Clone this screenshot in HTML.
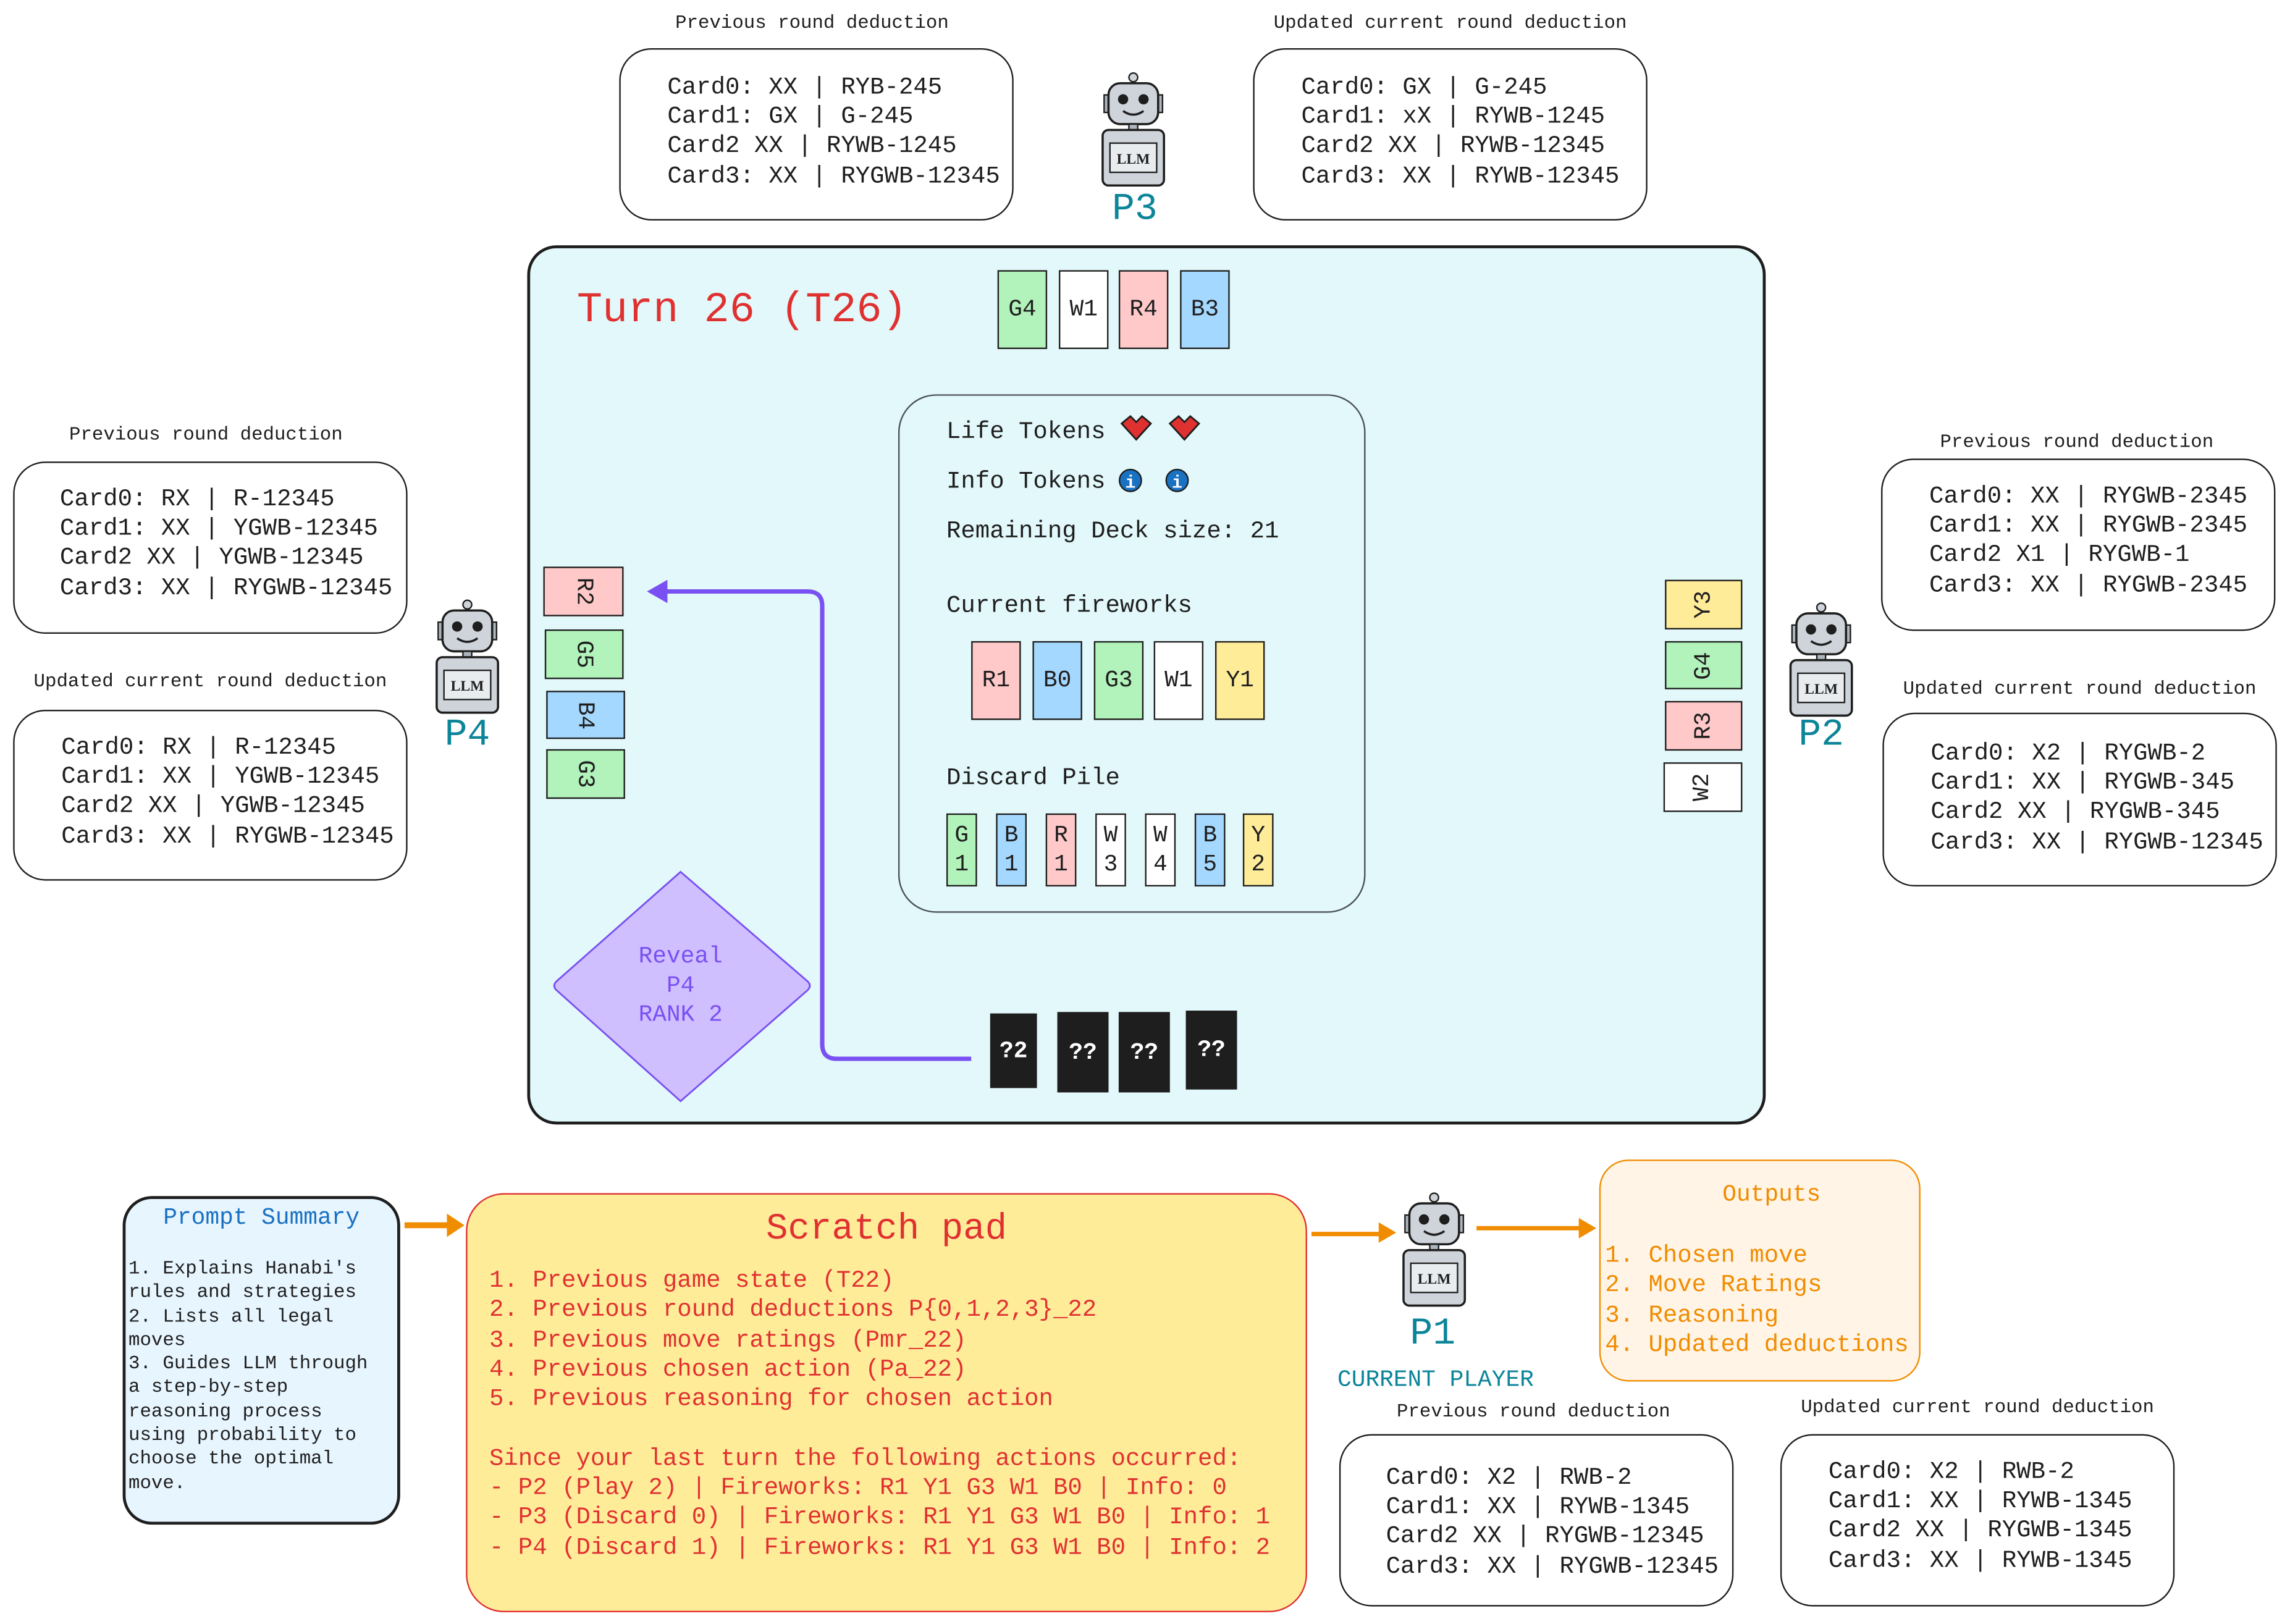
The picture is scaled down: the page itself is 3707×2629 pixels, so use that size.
<!DOCTYPE html>
<html><head><meta charset="utf-8"><style>
html,body{margin:0;padding:0;background:#fff;overflow:hidden}
#w{position:absolute;left:0;top:0;width:1568px;height:1112px;transform:scale(2.36416);transform-origin:0 0;font-family:"Liberation Mono",monospace;color:#1e1e1e}
.a{position:absolute}
.box{position:absolute;border:1.3px solid #1e1e1e;border-radius:22px;background:#fff;box-sizing:border-box}
.lbl{position:absolute;font-size:13px;line-height:16px;text-align:center;width:300px;white-space:pre}
.txt{position:absolute;font-size:16.5px;line-height:20.2px;white-space:pre}
.card{position:absolute;border:1.6px solid #1e1e1e;box-sizing:border-box;display:flex;align-items:center;justify-content:center;font-size:16px}
.g{background:#b2f2bb}.w{background:#fff}.r{background:#ffc9c9}.b{background:#a5d8ff}.y{background:#ffec99}.k{background:#1e1e1e;color:#fff;font-weight:bold}
.pl{position:absolute;color:#0c8599;font-size:26px;text-align:center;width:80px}
.rot90 span{transform:rotate(90deg);display:inline-block}
.rotm span{transform:rotate(-90deg);display:inline-block}
.dc{position:absolute;border:1.6px solid #1e1e1e;box-sizing:border-box;font-size:16px;line-height:20px;text-align:center;width:21px;height:50px;padding-top:4px}
</style></head><body><div id="w">

<!-- P3 -->
<div class="lbl" style="left:406px;top:8px">Previous round deduction</div>
<div class="box" style="left:424px;top:33px;width:270px;height:118px"></div>
<div class="txt" style="left:457px;top:50px">Card0: XX | RYB-245
Card1: GX | G-245
Card2 XX | RYWB-1245
Card3: XX | RYGWB-12345</div>
<div class="lbl" style="left:843px;top:8px">Updated current round deduction</div>
<div class="box" style="left:858px;top:33px;width:270px;height:118px"></div>
<div class="txt" style="left:891px;top:50px">Card0: GX | G-245
Card1: xX | RYWB-1245
Card2 XX | RYWB-12345
Card3: XX | RYWB-12345</div>

<!-- P4 -->
<div class="lbl" style="left:-9px;top:290px">Previous round deduction</div>
<div class="box" style="left:9px;top:316px;width:270px;height:118px"></div>
<div class="txt" style="left:41px;top:332px">Card0: RX | R-12345
Card1: XX | YGWB-12345
Card2 XX | YGWB-12345
Card3: XX | RYGWB-12345</div>
<div class="lbl" style="left:-6px;top:459px">Updated current round deduction</div>
<div class="box" style="left:9px;top:486px;width:270px;height:117px"></div>
<div class="txt" style="left:42px;top:502px">Card0: RX | R-12345
Card1: XX | YGWB-12345
Card2 XX | YGWB-12345
Card3: XX | RYGWB-12345</div>

<!-- P2 -->
<div class="lbl" style="left:1272px;top:295px">Previous round deduction</div>
<div class="box" style="left:1288px;top:314px;width:270px;height:118px"></div>
<div class="txt" style="left:1321px;top:330px">Card0: XX | RYGWB-2345
Card1: XX | RYGWB-2345
Card2 X1 | RYGWB-1
Card3: XX | RYGWB-2345</div>
<div class="lbl" style="left:1274px;top:464px">Updated current round deduction</div>
<div class="box" style="left:1289px;top:488px;width:270px;height:119px"></div>
<div class="txt" style="left:1322px;top:506px">Card0: X2 | RYGWB-2
Card1: XX | RYGWB-345
Card2 XX | RYGWB-345
Card3: XX | RYGWB-12345</div>

<!-- P1 -->
<div class="lbl" style="left:900px;top:959px">Previous round deduction</div>
<div class="box" style="left:917px;top:982px;width:270px;height:118px"></div>
<div class="txt" style="left:949px;top:1002px">Card0: X2 | RWB-2
Card1: XX | RYWB-1345
Card2 XX | RYGWB-12345
Card3: XX | RYGWB-12345</div>
<div class="lbl" style="left:1204px;top:956px">Updated current round deduction</div>
<div class="box" style="left:1219px;top:982px;width:270px;height:118px"></div>
<div class="txt" style="left:1252px;top:998px">Card0: X2 | RWB-2
Card1: XX | RYWB-1345
Card2 XX | RYGWB-1345
Card3: XX | RYWB-1345</div>

<!-- robots -->
<svg class="a" style="left:0;top:0" width="1568" height="1112">
<defs><g id="rob">
<line x1="22" y1="0" x2="22" y2="7" stroke="#1e1e1e" stroke-width="1.5"/><circle cx="22" cy="3" r="3" fill="#ced4da" stroke="#1e1e1e"/>
<rect x="2" y="15" width="4" height="12" fill="#adb5bd" stroke="#1e1e1e"/><rect x="38" y="15" width="4" height="12" fill="#adb5bd" stroke="#1e1e1e"/>
<rect x="5" y="7" width="34" height="28" rx="8" fill="#ced4da" stroke="#1e1e1e" stroke-width="1.5"/>
<circle cx="15" cy="18" r="3.5" fill="#1e1e1e"/><circle cx="29" cy="18" r="3.5" fill="#1e1e1e"/>
<path d="M15 26 Q22 31 29 26" stroke="#1e1e1e" fill="none" stroke-width="1.5"/>
<rect x="19" y="35" width="6" height="4" fill="#adb5bd" stroke="#1e1e1e"/>
<rect x="1" y="39" width="42" height="38" rx="4" fill="#ced4da" stroke="#1e1e1e" stroke-width="1.5"/>
<rect x="6" y="48" width="32" height="20" fill="#e9ecef" stroke="#1e1e1e"/>
<text x="22" y="62" font-family="Liberation Serif,serif" font-size="10" font-weight="bold" text-anchor="middle" fill="#1e1e1e">LLM</text>
</g></defs>
<use href="#rob" x="754" y="50"/><use href="#rob" x="298" y="411"/><use href="#rob" x="1225" y="413"/><use href="#rob" x="960" y="817"/>
</svg>
<div class="pl" style="left:737px;top:128px">P3</div>
<div class="pl" style="left:280px;top:488px">P4</div>
<div class="pl" style="left:1207px;top:488px">P2</div>
<div class="pl" style="left:941px;top:898px">P1</div>
<div class="a" style="left:903px;top:936px;width:160px;text-align:center;color:#0c8599;font-size:16px">CURRENT PLAYER</div>

<!-- main board -->
<div class="a" style="left:361px;top:168px;width:848px;height:602px;background:#e3f8fa;border:2px solid #1e1e1e;border-radius:20px;box-sizing:border-box"></div>
<div class="a" style="left:395px;top:196px;font-size:29px;color:#e03131;white-space:pre">Turn 26 (T26)</div>
<div class="card g" style="left:683px;top:185px;width:34px;height:54px">G4</div>
<div class="card w" style="left:725px;top:185px;width:34px;height:54px">W1</div>
<div class="card r" style="left:766px;top:185px;width:34px;height:54px">R4</div>
<div class="card b" style="left:808px;top:185px;width:34px;height:54px">B3</div>

<div class="a" style="left:615px;top:270px;width:320px;height:355px;border:1.2px solid #495057;border-radius:26px;box-sizing:border-box"></div>
<div class="txt" style="left:648px;top:286px">Life Tokens</div>
<div class="txt" style="left:648px;top:320px">Info Tokens</div>
<div class="txt" style="left:648px;top:354px">Remaining Deck size: 21</div>
<div class="txt" style="left:648px;top:405px">Current fireworks</div>
<div class="txt" style="left:648px;top:523px">Discard Pile</div>
<svg class="a" style="left:760px;top:280px" width="70" height="65">
<path d="M8 10 L14 5 L18 9 L22 5 L28 10 L18 21 Z" fill="#e03131" stroke="#1e1e1e" stroke-width="1.2"/>
<path d="M41 10 L47 5 L51 9 L55 5 L61 10 L51 21 Z" fill="#e03131" stroke="#1e1e1e" stroke-width="1.2"/>
<circle cx="14" cy="49" r="7.5" fill="#1971c2" stroke="#1e1e1e"/><text x="14" y="54" font-size="12" font-weight="bold" fill="#fff" text-anchor="middle" font-family="Liberation Mono">i</text>
<circle cx="46" cy="49" r="7.5" fill="#1971c2" stroke="#1e1e1e"/><text x="46" y="54" font-size="12" font-weight="bold" fill="#fff" text-anchor="middle" font-family="Liberation Mono">i</text>
</svg>
<div class="card r" style="left:665px;top:439px;width:34px;height:54px">R1</div>
<div class="card b" style="left:707px;top:439px;width:34px;height:54px">B0</div>
<div class="card g" style="left:749px;top:439px;width:34px;height:54px">G3</div>
<div class="card w" style="left:790px;top:439px;width:34px;height:54px">W1</div>
<div class="card y" style="left:832px;top:439px;width:34px;height:54px">Y1</div>
<div class="dc g" style="left:648px;top:557px">G<br>1</div>
<div class="dc b" style="left:682px;top:557px">B<br>1</div>
<div class="dc r" style="left:716px;top:557px">R<br>1</div>
<div class="dc w" style="left:750px;top:557px">W<br>3</div>
<div class="dc w" style="left:784px;top:557px">W<br>4</div>
<div class="dc b" style="left:818px;top:557px">B<br>5</div>
<div class="dc y" style="left:851px;top:557px">Y<br>2</div>

<div class="card r rot90" style="left:372px;top:388px;width:55px;height:34px"><span>R2</span></div>
<div class="card g rot90" style="left:373px;top:431px;width:54px;height:34px"><span>G5</span></div>
<div class="card b rot90" style="left:374px;top:473px;width:54px;height:33px"><span>B4</span></div>
<div class="card g rot90" style="left:374px;top:513px;width:54px;height:34px"><span>G3</span></div>
<div class="card y rotm" style="left:1140px;top:397px;width:53px;height:34px"><span>Y3</span></div>
<div class="card g rotm" style="left:1140px;top:439px;width:53px;height:33px"><span>G4</span></div>
<div class="card r rotm" style="left:1140px;top:480px;width:53px;height:34px"><span>R3</span></div>
<div class="card w rotm" style="left:1139px;top:522px;width:54px;height:34px"><span>W2</span></div>

<svg class="a" style="left:0;top:0" width="1568" height="1112">
<path d="M665 725 L573 725 Q563 725 563 715 L563 415 Q563 405 553 405 L455 405" stroke="#7950f2" stroke-width="3" fill="none"/>
<path d="M443 405 L457 397 L457 413 Z" fill="#7950f2"/>
<path d="M466 597 L553 672 Q556 675 553 678 L466 754 L381 678 Q378 675 381 672 Z" fill="#d0bfff" stroke="#7950f2" stroke-width="1.2"/>
<path d="M277 839 L308 839" stroke="#f08c00" stroke-width="4"/><path d="M318 839 L306 831 L306 847 Z" fill="#f08c00"/>
<path d="M898 845 L945 845" stroke="#f08c00" stroke-width="3"/><path d="M956 844 L944 837 L944 851 Z" fill="#f08c00"/>
<path d="M1011 841 L1082 841" stroke="#f08c00" stroke-width="3"/><path d="M1093 841 L1081 834 L1081 848 Z" fill="#f08c00"/>
</svg>
<div class="a" style="left:416px;top:645px;width:100px;text-align:center;color:#7950f2;font-size:16px;line-height:20px">Reveal<br>P4<br>RANK 2</div>
<div class="card k" style="left:678px;top:694px;width:32px;height:51px">?2</div>
<div class="card k" style="left:724px;top:693px;width:35px;height:55px">??</div>
<div class="card k" style="left:766px;top:693px;width:35px;height:55px">??</div>
<div class="card k" style="left:812px;top:692px;width:35px;height:54px">??</div>

<!-- bottom -->
<div class="a" style="left:84px;top:819px;width:190px;height:225px;background:#e7f5ff;border:2px solid #1e1e1e;border-radius:20px;box-sizing:border-box"></div>
<div class="a" style="left:84px;top:825px;width:190px;text-align:center;color:#1971c2;font-size:16px">Prompt Summary</div>
<div class="a" style="left:88px;top:861px;font-size:13px;line-height:16.3px;white-space:pre">1. Explains Hanabi's
rules and strategies
2. Lists all legal
moves
3. Guides LLM through
a step-by-step
reasoning process
using probability to
choose the optimal
move.</div>

<div class="a" style="left:319px;top:817px;width:576px;height:287px;background:#ffec99;border:1.3px solid #e03131;border-radius:26px;box-sizing:border-box"></div>
<div class="a" style="left:319px;top:827px;width:576px;text-align:center;color:#e03131;font-size:25px">Scratch pad</div>
<div class="txt" style="left:335px;top:867px;color:#e03131;font-size:16.5px;line-height:20.3px">1. Previous game state (T22)
2. Previous round deductions P{0,1,2,3}_22
3. Previous move ratings (Pmr_22)
4. Previous chosen action (Pa_22)
5. Previous reasoning for chosen action

Since your last turn the following actions occurred:
- P2 (Play 2) | Fireworks: R1 Y1 G3 W1 B0 | Info: 0
- P3 (Discard 0) | Fireworks: R1 Y1 G3 W1 B0 | Info: 1
- P4 (Discard 1) | Fireworks: R1 Y1 G3 W1 B0 | Info: 2</div>

<div class="a" style="left:1095px;top:794px;width:220px;height:152px;background:#fff4e6;border:1.5px solid #f08c00;border-radius:20px;box-sizing:border-box"></div>
<div class="a" style="left:1095px;top:809px;width:236px;text-align:center;color:#f08c00;font-size:16px">Outputs</div>
<div class="txt" style="left:1099px;top:850px;color:#f08c00;line-height:20.3px">1. Chosen move
2. Move Ratings
3. Reasoning
4. Updated deductions</div>

</div></body></html>
